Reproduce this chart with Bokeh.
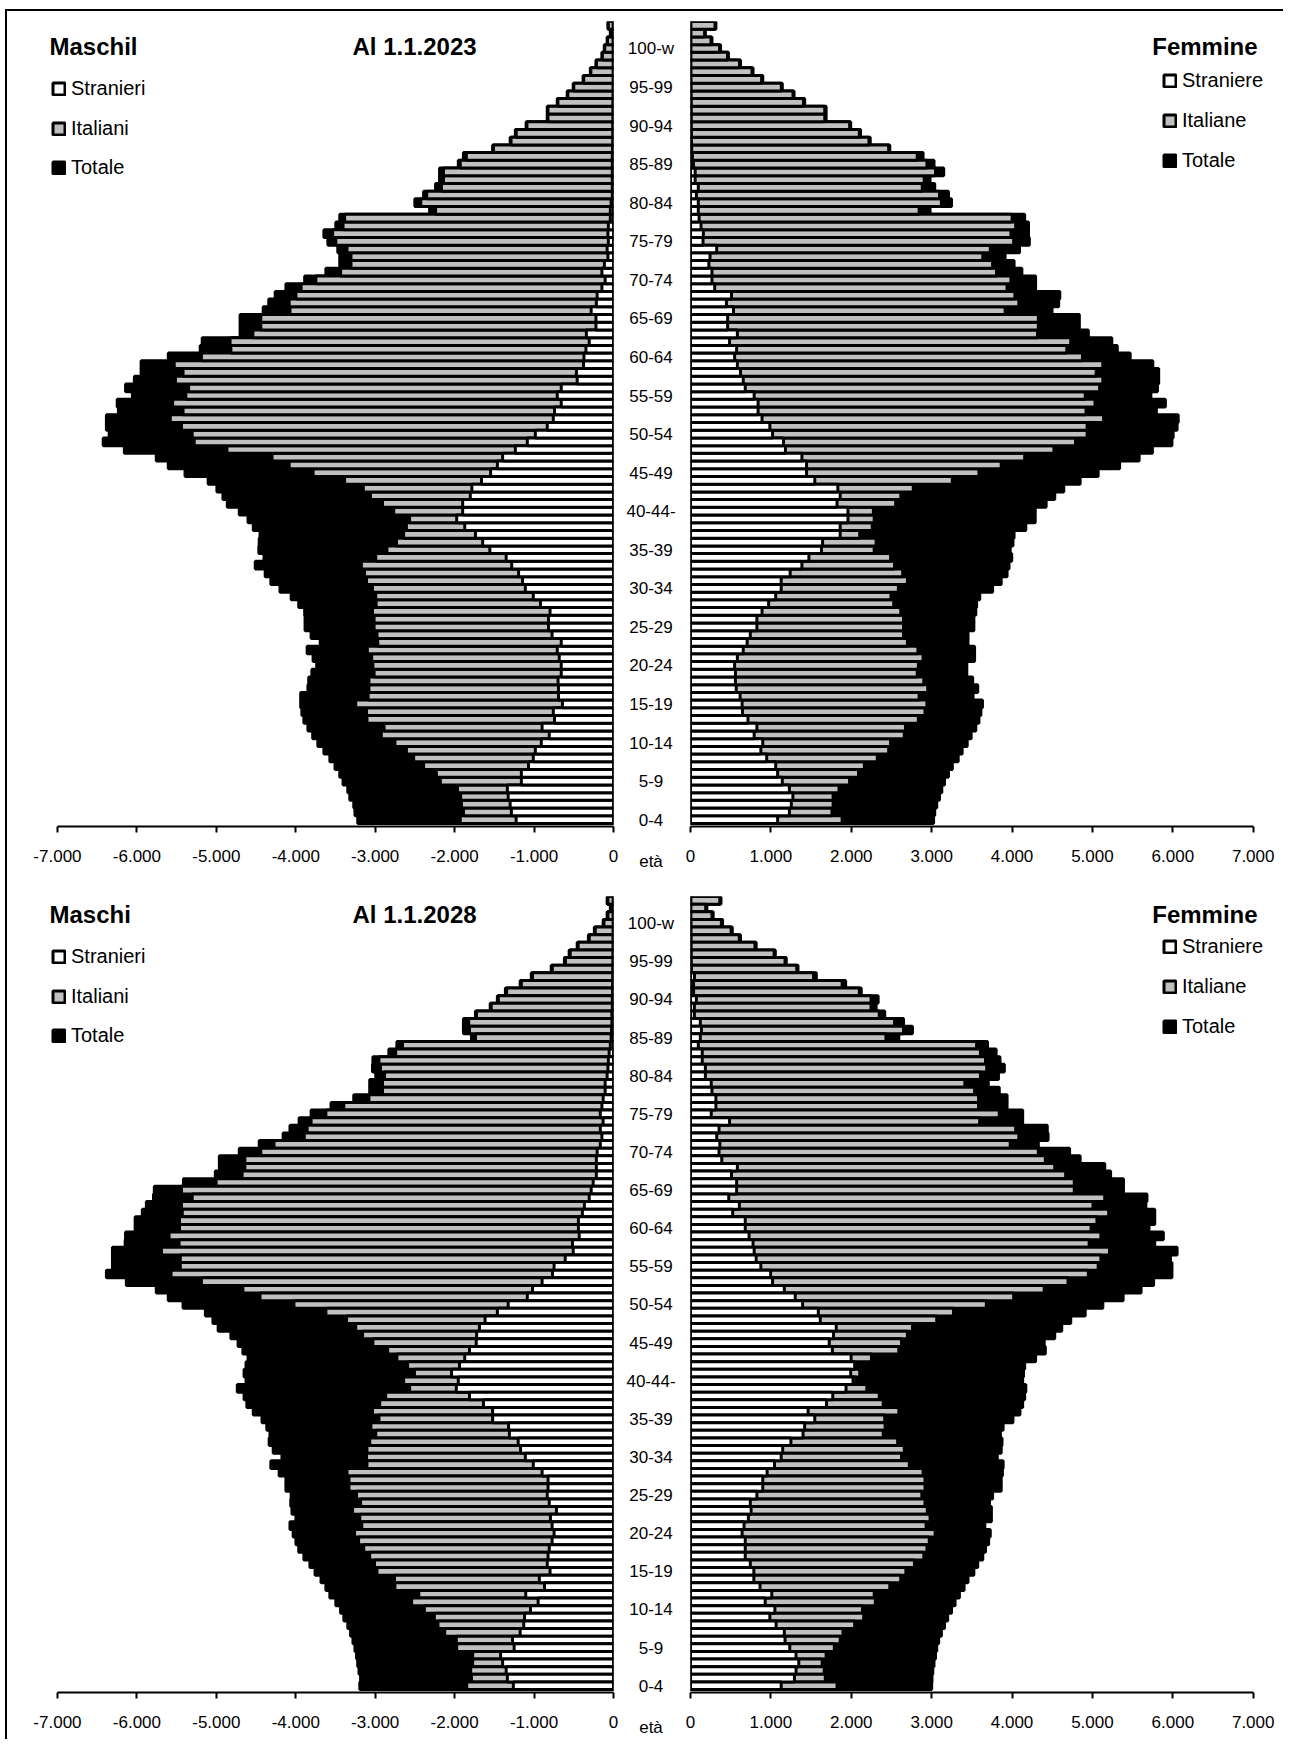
from bokeh.plotting import figure
from bokeh.models import Range1d, FixedTicker, Legend, LegendItem, Label, ColumnDataSource
from bokeh.layouts import row, column
from bokeh.embed import file_html
from bokeh.resources import INLINE
from bokeh.core.properties import value

FONT = "Liberation Sans"
GRAY = "#c0c0c0"
LW = 3
EXT = 3  # px of frame kept below the lowest bar

AGES_UP = list(range(0, 104))          # age 0 .. 103
AGES_DOWN = list(range(103, -1, -1))   # age 103 .. 0
AGE_TICKS = list(range(0, 101, 5))
AGE_LABELS = ["0-4", "5-9", "10-14", "15-19", "20-24", "25-29", "30-34", "35-39",
              "40-44-", "45-49", "50-54", "55-59", "60-64", "65-69", "70-74", "75-79",
              "80-84", "85-89", "90-94", "95-99", "100-w"]
X_TICKS_L = [-7000, -6000, -5000, -4000, -3000, -2000, -1000, 0]
X_TICKS_R = [0, 1000, 2000, 3000, 4000, 5000, 6000, 7000]

# ---------- Al 1.1.2023 : values listed from age 0 up to age 103 ----------
M23_TOT = [3220,3255,3270,3320,3345,3405,3446,3506,3571,3646,3722,3787,3847,3898,3923,3938,
           3938,3847,3837,3797,3737,3782,3857,3692,3807,3883,3883,
           3888,3963,4058,4199,4314,4385,4510,4400,4465,4460,4450,4535,4601,4711,4862,4917,
           4993,5103,5394,5605,5756,6158,6424,6349,6384,6384,6233,6248,6057,6143,6032,5947,
           5947,5605,5203,5178,4701,4701,4701,
           4410,4340,4259,4124,3888,3621,3446,3446,3471,3596,3646,3496,3446,2315,2501,2391,
           2240,2190,2190,1954,1889,1522,1301,1236,1100,834,834,
           708,583,507,382,291,221,146,116,80,40,70]
M23_ITA = [1929,1889,1914,1924,1964,2180,2230,2391,2516,2607,2752,2923,2888,3104,3109,3245,
           3089,3079,3079,3014,3029,3044,3099,2968,2978,3014,3014,
           3034,2988,2993,3034,3109,3134,3174,2993,2853,2732,2642,2607,2567,2767,2908,3059,
           3149,3385,3782,4083,4299,4867,5279,5304,5439,5580,5419,5550,5384,5349,5515,5419,
           5530,5188,4817,4827,4540,4440,4440,
           4073,4083,3998,3933,3747,3435,3305,3305,3355,3496,3536,3405,3385,2240,2426,2351,
           2165,2140,2140,1929,1853,1510,1290,1225,1090,825,825,
           700,575,500,375,285,215,140,110,75,35,65]
M23_STR = [1226,1286,1301,1326,1336,1160,1160,1070,1010,984,909,809,899,743,758,643,
           693,693,698,658,658,683,708,658,773,819,819,
           799,919,1010,1110,1145,1195,1281,1351,1557,1647,1738,1873,1974,1899,1899,1803,
           1783,1662,1547,1462,1396,1236,1085,984,834,758,743,658,708,658,457,467,
           377,372,347,306,342,221,221,
           281,216,206,146,105,146,115,70,80,65,70,65,40,40,30,15,
           15,15,15,15,15,12,10,10,10,8,8,
           8,6,6,5,5,5,5,5,5,5,5]
F23_TOT = [3024,3038,3063,3097,3126,3160,3209,3257,3330,3379,3442,3491,3549,3588,3612,3632,
           3515,3573,3510,3437,3437,3534,3534,3452,3452,3525,3525,
           3549,3559,3598,3758,3865,3938,3962,3996,3977,4011,4025,4171,4288,4288,4424,4531,
           4643,4847,5071,5338,5581,5746,5989,6004,6053,6067,5795,5907,5727,5809,5824,5824,
           5751,5469,5309,5241,4949,4837,4837,
           4497,4580,4594,4293,4293,4122,4025,3913,4093,4215,4205,4205,4157,2980,3247,3209,
           3038,2980,3150,3029,2893,2479,2236,2115,1993,1687,1687,
           1420,1288,1142,899,778,622,472,374,267,185,316]
F23_ITA = [1886,1760,1774,1774,1847,1979,2090,2163,2324,2465,2489,2659,2674,2834,2917,2941,
           2844,2951,2902,2820,2834,2893,2829,2698,2650,2650,2650,
           2616,2528,2494,2586,2698,2640,2538,2489,2285,2309,2105,2261,2285,2275,2552,2616,
           2771,3257,3588,3865,4157,4521,4789,4934,4934,5139,4920,5032,4910,5090,5129,5046,
           5129,4876,4681,4730,4317,4327,4327,
           3914,4084,4035,3938,3986,3806,3758,3636,3729,4020,3986,4045,4001,2844,3121,3097,
           2883,2907,3048,2941,2820,2465,2220,2100,1980,1670,1670,
           1405,1275,1130,885,765,610,460,362,255,175,305]
F23_STR = [1084,1230,1254,1274,1230,1142,1084,1060,948,875,899,792,826,715,647,642,
           617,569,559,559,549,583,656,705,744,826,826,
           890,972,1060,1128,1128,1240,1386,1473,1629,1643,1862,1862,1959,1959,1823,1862,
           1833,1546,1444,1444,1386,1181,1157,1021,987,890,841,841,792,681,656,622,
           583,549,574,486,583,462,462,
           535,447,510,301,267,267,228,243,326,156,160,131,107,97,97,73,
           97,58,58,37,24,15,12,12,10,10,10,
           10,8,8,6,6,5,5,5,5,5,5]

# ---------- Al 1.1.2028 : values listed from age 103 down to age 0 ----------
M28_TOT = [80,40,80,130,241,316,457,558,618,784,1035,1175,1361,1462,1552,1738,1889,1889,1788,
           2727,2828,3029,3034,2993,3069,3069,3270,3556,3807,3958,4073,4159,4460,4711,4962,
           4962,5013,5414,5781,5791,5881,5932,6022,6022,6143,6148,6308,6308,6308,6384,6133,
           5756,
           5605,5419,5138,5043,4977,4817,4726,4666,4601,4626,4651,4626,4736,4651,4616,4535,
           4425,4365,4325,4335,4284,4174,4314,4209,4124,4124,
           4058,4063,4048,3998,4073,4033,3998,3963,3898,3822,3757,3682,3621,3571,3496,3436,
           3395,3345,3310,3280,3255,3235,3220,3204,3184,3194]
M28_ITA = [70,35,70,120,230,305,445,545,605,770,1020,1160,1345,1450,1540,1725,1823,1813,1738,
           2657,2742,2953,2933,2883,2908,2908,3079,3395,3621,3807,3857,3893,4274,4440,4641,
           4641,4676,5003,5439,5304,5439,5429,5464,5464,5595,5469,5691,5454,5454,5570,5188,
           4666,
           4450,4023,3621,3360,3245,3159,3029,2843,2727,2592,2506,2642,2567,2868,2943,3034,
           2953,3054,2993,3069,3104,3109,3104,3355,3330,3330,
           3235,3184,3285,3194,3169,3260,3209,3144,3069,3009,2978,2757,2752,2451,2541,2381,
           2255,2210,2125,1979,1974,1773,1773,1798,1788,1848]
M28_STR = [5,5,5,5,5,6,6,8,8,10,10,12,12,15,15,20,20,25,30,
           40,55,65,70,80,105,105,130,146,166,131,166,146,166,206,216,
           216,216,256,281,306,367,392,442,442,432,517,507,608,748,768,899,
           1020,
           1085,1326,1462,1617,1688,1723,1728,1813,1873,1939,2039,1954,1979,1813,1637,1522,
           1522,1321,1311,1200,1170,1110,1010,899,824,824,
           834,809,718,794,773,748,773,809,824,834,799,934,869,1105,949,1045,
           1120,1130,1175,1271,1251,1421,1396,1351,1336,1261]
F28_TOT = [379,204,282,399,520,622,817,1055,1191,1337,1565,1930,2124,2334,2309,2416,2650,2761,2591,
           3695,3802,3850,3904,3831,3704,3841,3938,3938,4132,4132,4438,4448,4327,4716,4847,
           5153,5226,5386,5386,5678,5664,5775,5775,5703,5882,5775,6053,5970,5989,5989,5761,
           5605,
           5382,5129,4910,4730,4618,4531,4400,4414,4293,4157,4142,4132,4171,4157,4132,4098,
           4011,3889,3855,3875,3865,3816,3889,3880,3865,3865,
           3758,3719,3743,3743,3661,3729,3709,3670,3636,3573,3525,3452,3403,3345,3291,3247,
           3199,3160,3121,3087,3063,3048,3029,3014,3004,3000]
F28_ITA = [364,189,267,384,505,607,802,1040,1176,1322,1531,1886,2100,2246,2246,2348,2538,2650,2431,
           3559,3607,3670,3685,3607,3413,3534,3583,3583,3841,3597,4045,4084,3977,4327,4414,
           4531,4667,4774,4774,5153,5007,5202,5056,4983,5105,4959,5212,5105,5071,4949,4696,
           4400,
           4020,3680,3272,3063,2761,2698,2625,2591,2251,2000,2105,2056,2193,2348,2397,2591,
           2416,2421,2397,2577,2659,2625,2722,2893,2917,2917,
           2878,2917,2946,2980,2931,3043,2970,2941,2902,2786,2679,2615,2479,2285,2299,2139,
           2154,2042,1896,1862,1789,1687,1638,1663,1677,1823]
F28_STR = [5,5,5,6,6,8,8,10,10,12,49,38,38,73,48,48,122,136,122,
           97,146,146,185,185,258,267,316,316,258,486,355,326,365,355,389,
           583,510,574,574,476,608,525,681,681,729,778,792,817,875,997,1021,
           1167,
           1303,1395,1590,1614,1813,1779,1726,1765,1998,2042,1993,2022,1935,1770,1692,1463,
           1546,1420,1400,1249,1147,1128,1045,953,899,899,
           826,744,754,720,666,642,681,681,681,744,788,788,865,1011,929,1050,
           987,1065,1167,1176,1235,1313,1347,1313,1293,1128]


def fmt(v):
    s = f"{abs(v):,}".replace(",", ".")
    return ("-" if v < 0 else "") + s


def style_axis(ax, ticks, bounds):
    ax.ticker = FixedTicker(ticks=ticks)
    ax.bounds = bounds
    ax.major_label_overrides = {t: fmt(t) for t in ticks}
    ax.major_label_text_font = FONT
    ax.major_label_text_font_size = "17px"
    ax.major_label_text_color = "black"
    ax.axis_line_width = 2
    ax.axis_line_color = "black"
    ax.major_tick_line_width = 2
    ax.major_tick_line_color = "black"
    ax.major_tick_in = 0
    ax.major_tick_out = 6
    ax.minor_tick_line_color = None
    ax.major_label_standoff = 17


def y_range_for(fh):
    pitch = fh / 104.0
    return Range1d(-0.5 - EXT / pitch, 103.5)


def side(ages, tot, ita, stra, sign, width, mbl, mbr, mbt, fh, mbb, ticks, bounds, x_range):
    p = figure(width=width, height=mbt + fh + mbb, x_range=x_range,
               y_range=y_range_for(fh), output_backend="svg",
               toolbar_location=None, y_axis_location=None,
               min_border_left=mbl, min_border_right=mbr,
               min_border_top=mbt, min_border_bottom=mbb - EXT)
    p.grid.visible = False
    p.outline_line_color = None
    src = ColumnDataSource(dict(age=ages,
                                tot=[sign * v for v in tot],
                                ita=[sign * v for v in ita],
                                stra=[sign * v for v in stra]))
    rt = p.hbar(y="age", left=0, right="tot", height=1.0, fill_color="black",
                line_color="black", line_width=LW, source=src)
    ri = p.hbar(y="age", left=0, right="ita", height=1.0, fill_color=GRAY,
                line_color="black", line_width=LW, source=src)
    rs = p.hbar(y="age", left=0, right="stra", height=1.0, fill_color="white",
                line_color="black", line_width=LW, source=src)
    style_axis(p.xaxis[0], ticks, bounds)
    return p, [rs, ri, rt]


def add_legends(p, rends, names, vx, vys):
    for r, name, vy in zip(rends, names, vys):
        lg = Legend(items=[LegendItem(label=name, renderers=[r])], location=(vx, vy + EXT),
                    padding=0, margin=0, spacing=0, border_line_color=None,
                    background_fill_alpha=0, label_text_font=FONT,
                    label_text_font_size="20px", label_text_color="black",
                    glyph_width=15, glyph_height=15, label_standoff=5, label_height=15)
        p.add_layout(lg)


def add_text(p, x, y, text):
    p.add_layout(Label(x=x, y=y, text=text, text_font=FONT, text_font_size="24px",
                       text_font_style="bold", text_baseline="middle",
                       text_align="left", text_color="black"))


def mid(mbt, fh, mbb):
    m = figure(width=59, height=mbt + fh + mbb, x_range=Range1d(0, 1),
               y_range=y_range_for(fh), output_backend="svg", toolbar_location=None,
               y_axis_location=None,
               min_border_left=0, min_border_right=0,
               min_border_top=mbt, min_border_bottom=mbb - EXT)
    m.grid.visible = False
    m.outline_line_color = None
    m.text(x=[0.5] * len(AGE_TICKS), y=AGE_TICKS, text=AGE_LABELS,
           text_align="center", text_baseline="middle",
           text_font=value(FONT), text_font_size=value("17px"), text_color="black")
    ax = m.xaxis[0]
    ax.ticker = FixedTicker(ticks=[])
    ax.axis_line_color = None
    ax.major_tick_line_color = None
    ax.minor_tick_line_color = None
    ax.major_tick_out = 0
    ax.major_tick_in = 0
    ax.major_label_standoff = 0
    ax.axis_label = "età"
    ax.axis_label_standoff = 25
    ax.axis_label_text_font = FONT
    ax.axis_label_text_font_size = "17px"
    ax.axis_label_text_font_style = "normal"
    ax.axis_label_text_color = "black"
    return m


def pyramid_row(ages, mt, mi, ms, ft, fi, fs, male_title, year_title,
                mbt, fh, mbb, yt, male_vys, female_vys):
    pl, rl = side(ages, mt, mi, ms, -1, 614, 41, 8, mbt, fh, mbb, X_TICKS_L, (-7000, 0),
                  Range1d(-7113, 0))
    pr, rr = side(ages, ft, fi, fs, 1, 603, 10, 11, mbt, fh, mbb, X_TICKS_R, (0, 7000),
                  Range1d(0, 7240))
    pm = mid(mbt, fh, mbb)
    add_text(pl, -7101, yt, male_title)
    add_text(pl, -3286, yt, year_title)
    add_text(pr, 5744, yt, "Femmine")
    add_legends(pl, rl, ["Stranieri", "Italiani", "Totale"], 3, male_vys)
    add_legends(pr, rr, ["Straniere", "Italiane", "Totale"], 472, female_vys)
    return row(pl, pm, pr)


r1 = pyramid_row(AGES_UP, M23_TOT, M23_ITA, M23_STR, F23_TOT, F23_ITA, F23_STR,
                 "Maschil", "Al 1.1.2023", 10, 802, 50, 100.3,
                 [723, 683, 644], [731, 691, 651])
r2 = pyramid_row(AGES_DOWN, M28_TOT, M28_ITA, M28_STR, F28_TOT, F28_ITA, F28_STR,
                 "Maschi", "Al 1.1.2028", 23, 798, 45, 101.2,
                 [721, 681, 642], [731, 691, 651])

lay = column(r1, r2, styles={"border-left": "2px solid black",
                             "border-top": "2px solid black",
                             "margin-left": "5px", "margin-top": "9px"})

open("out.html", "w").write(file_html(lay, INLINE))
